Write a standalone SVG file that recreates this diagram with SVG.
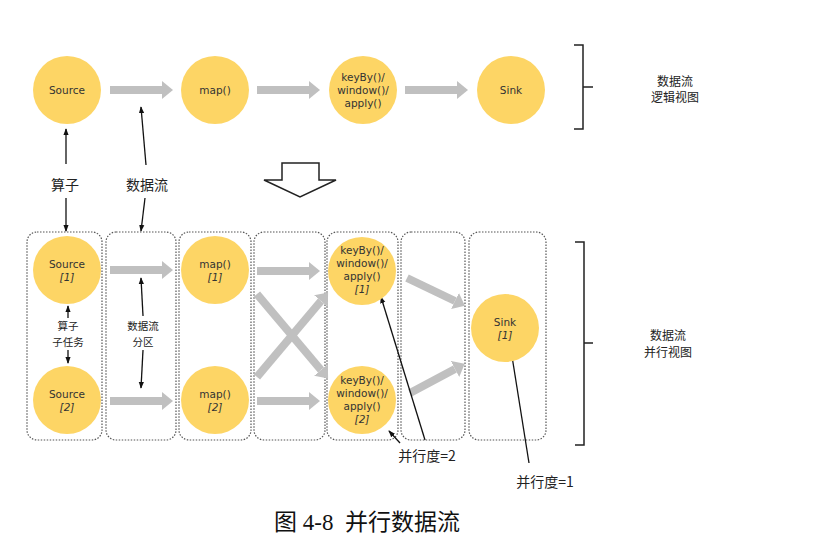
<svg xmlns="http://www.w3.org/2000/svg" width="819" height="543" viewBox="0 0 819 543">
<defs>
<marker id="thick" viewBox="0 0 12 18" markerUnits="userSpaceOnUse" markerWidth="12" markerHeight="18" refX="0" refY="9" orient="auto">
<path d="M0,0 L11,9 L0,18 z" fill="#c0c0c0"/>
</marker>
<marker id="thin" viewBox="0 0 8 8" markerUnits="userSpaceOnUse" markerWidth="7" markerHeight="7" refX="7" refY="4" orient="auto">
<path d="M0,1 L8,4 L0,7 z" fill="#111"/>
</marker>
</defs>
<style>
.op{fill:#fdd565;}
.t{font-family:"DejaVu Sans","Noto Sans",sans-serif;font-size:10.5px;fill:#333;text-anchor:middle;}
.i{font-style:italic;}
.cn{font-family:"Noto Sans CJK SC",sans-serif;fill:#222;text-anchor:middle;}
.box{fill:none;stroke:#555;stroke-width:1.2;stroke-dasharray:1.5 1.5;}
.flow{stroke:#c0c0c0;stroke-width:8;fill:none;marker-end:url(#thick);}
.ptr{stroke:#111;stroke-width:1.3;fill:none;marker-end:url(#thin);}
.brace{stroke:#222;stroke-width:1.5;fill:none;}
</style>
<rect width="819" height="543" fill="#fff"/>

<g id="partitions">
<rect class="box" x="27" y="232" width="75" height="208" rx="10"/>
<rect class="box" x="106" y="232" width="70" height="208" rx="10"/>
<rect class="box" x="179" y="232" width="72" height="208" rx="10"/>
<rect class="box" x="254" y="232" width="71" height="208" rx="10"/>
<rect class="box" x="327" y="232" width="71" height="208" rx="10"/>
<rect class="box" x="401" y="232" width="64" height="208" rx="10"/>
<rect class="box" x="469" y="232" width="77" height="208" rx="10"/>
</g>

<g id="connectors">
<line class="flow" x1="110" y1="90" x2="162" y2="90"/>
<line class="flow" x1="257" y1="90" x2="309" y2="90"/>
<line class="flow" x1="405" y1="90" x2="457" y2="90"/>
<line class="flow" x1="110" y1="270" x2="162" y2="270"/>
<line class="flow" x1="110" y1="401" x2="162" y2="401"/>
<line class="flow" x1="257" y1="271" x2="309" y2="271"/>
<line class="flow" x1="257" y1="401" x2="309" y2="401"/>
<line class="flow" x1="257" y1="294" x2="321" y2="370"/>
<line class="flow" x1="257" y1="377" x2="321" y2="301"/>
<line class="flow" x1="407" y1="278" x2="455" y2="301"/>
<line class="flow" x1="410" y1="393" x2="455" y2="369"/>

<line class="ptr" x1="66" y1="164" x2="66" y2="129"/>
<line class="ptr" x1="66" y1="198" x2="66" y2="231"/>
<line class="ptr" x1="146" y1="165" x2="141" y2="107"/>
<line class="ptr" x1="145" y1="198" x2="141" y2="231"/>
<line class="ptr" x1="68" y1="318" x2="68" y2="306"/>
<line class="ptr" x1="68" y1="350" x2="68" y2="363"/>
<line class="ptr" x1="143" y1="316" x2="141" y2="278"/>
<line class="ptr" x1="143" y1="350" x2="141" y2="388"/>
<line class="ptr" x1="425" y1="440" x2="381" y2="297"/>
<line class="ptr" x1="400" y1="443" x2="389" y2="431"/>
<line class="ptr" x1="529" y1="463" x2="511" y2="350"/>
</g>

<g id="transform-arrow">
<path d="M282,163 L319,163 L319,180 L336,180 L300,197 L264,180 L282,180 Z" fill="#fff" stroke="#222" stroke-width="1.5" stroke-linejoin="miter"/>
</g>

<g id="source"><circle class="op" cx="67" cy="90" r="34"/><text class="t" x="67" y="94">Source</text></g>
<g id="map"><circle class="op" cx="215" cy="90" r="34"/><text class="t" x="215" y="94">map()</text></g>
<g id="keyby"><circle class="op" cx="363" cy="90" r="34"/>
<text class="t" x="363" y="81">keyBy()/</text><text class="t" x="363" y="94">window()/</text><text class="t" x="363" y="107">apply()</text></g>
<g id="sink"><circle class="op" cx="511" cy="90" r="34"/><text class="t" x="511" y="94">Sink</text></g>

<g id="source1"><circle class="op" cx="67" cy="270" r="34"/><text class="t" x="67" y="268">Source</text><text class="t i" x="67" y="281">[1]</text></g>
<g id="source2"><circle class="op" cx="67" cy="400" r="34"/><text class="t" x="67" y="398">Source</text><text class="t i" x="67" y="411">[2]</text></g>
<g id="map1"><circle class="op" cx="215" cy="270" r="34"/><text class="t" x="215" y="268">map()</text><text class="t i" x="215" y="281">[1]</text></g>
<g id="map2"><circle class="op" cx="215" cy="400" r="34"/><text class="t" x="215" y="398">map()</text><text class="t i" x="215" y="411">[2]</text></g>
<g id="keyby1"><circle class="op" cx="362" cy="271" r="34"/>
<text class="t" x="362" y="254">keyBy()/</text><text class="t" x="362" y="267">window()/</text><text class="t" x="362" y="280">apply()</text><text class="t i" x="362" y="293">[1]</text></g>
<g id="keyby2"><circle class="op" cx="362" cy="400" r="34"/>
<text class="t" x="362" y="384">keyBy()/</text><text class="t" x="362" y="397">window()/</text><text class="t" x="362" y="410">apply()</text><text class="t i" x="362" y="423">[2]</text></g>
<g id="sink1"><circle class="op" cx="505" cy="328" r="34"/><text class="t" x="505" y="326">Sink</text><text class="t i" x="505" y="339">[1]</text></g>

<g id="labels">
<text class="cn" x="65" y="190" font-size="14">算子</text>
<text class="cn" x="147" y="190" font-size="14">数据流</text>
<text class="cn" x="68" y="330" font-size="10.5">算子</text>
<text class="cn" x="68" y="346" font-size="10.5">子任务</text>
<text class="cn" x="143" y="330" font-size="10.5">数据流</text>
<text class="cn" x="143" y="346" font-size="10.5">分区</text>
<text class="cn" x="427" y="461" font-size="14">并行度=2</text>
<text class="cn" x="545" y="487" font-size="14">并行度=1</text>
<text class="cn" x="675" y="86" font-size="12">数据流</text>
<text class="cn" x="675" y="102" font-size="12">逻辑视图</text>
<text class="cn" x="668" y="340" font-size="12">数据流</text>
<text class="cn" x="668" y="357" font-size="12">并行视图</text>
</g>

<g id="braces">
<path class="brace" d="M574,45 L583,45 L583,129 L574,129 M583,87 L593,87"/>
<path class="brace" d="M575,242 L584,242 L584,445 L575,445 M584,343 L593,343"/>
</g>

<text x="367" y="530" font-family="Liberation Serif, Noto Sans CJK SC, serif" font-size="23" fill="#111" text-anchor="middle" xml:space="preserve">图 4-8  并行数据流</text>
</svg>
